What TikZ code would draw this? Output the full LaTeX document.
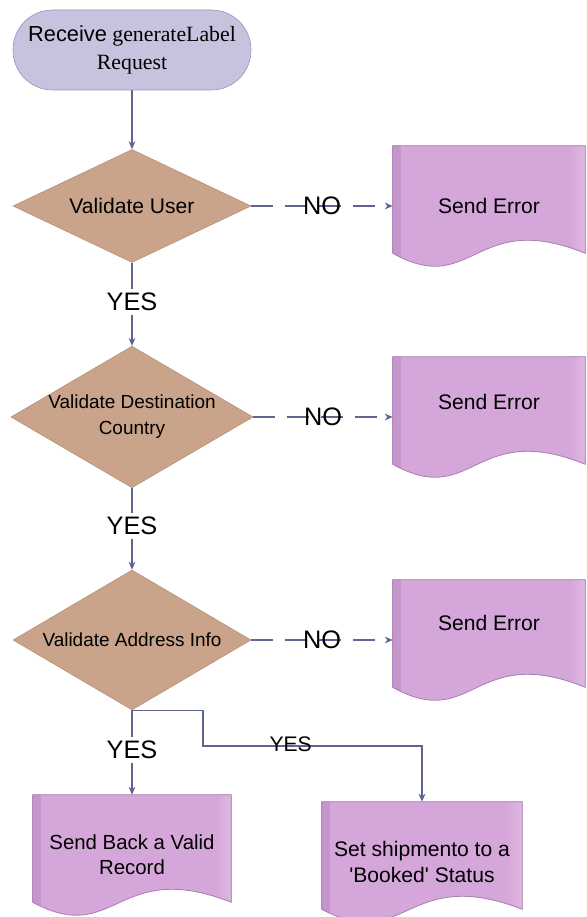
\documentclass[tikz,border=0pt]{standalone}
\usepackage{fontspec}
\setmainfont{Liberation Serif}
\setsansfont{Liberation Sans}[Ligatures=TeXOff]
\usepackage{tikz}
\usetikzlibrary{arrows.meta, shapes.geometric, calc, backgrounds}
\definecolor{flowline}{HTML}{5F6593}
\definecolor{termfill}{HTML}{C8C2DF}
\definecolor{termdraw}{HTML}{9590B8}
\definecolor{checkfill}{HTML}{C9A38A}
\definecolor{checkdraw}{HTML}{B58F77}
\definecolor{docfill}{HTML}{D5A6D9}
\definecolor{docedge}{HTML}{C596CB}
\definecolor{doclight}{HTML}{DFB8E2}
\definecolor{docdraw}{HTML}{A982B5}

% document symbol with a wavy bottom, drawn round a named node
\newcommand{\docshape}[1]{%
  \path[docbox] (#1.north west) -- (#1.north east) -- ([yshift=3.25mm]#1.south east)
    .. controls ($(#1.south west)!0.42!(#1.south east)+(0,1.45)$) and ($(#1.south west)!0.42!(#1.south east)+(0,-0.8)$)
    .. ([yshift=3.25mm]#1.south west) -- cycle;}

\begin{document}
\begin{tikzpicture}[
    flow/.style={draw=flowline, line width=0.8pt, -{Stealth[length=2mm, width=1.7mm]}},
    link/.style={draw=flowline, line width=0.8pt},
    noflow/.style={flow, dash pattern=on 0.55cm off 0.3cm},
    term/.style={draw=termdraw, fill=termfill, rectangle, rounded corners=0.99cm, minimum width=5.95cm, minimum height=2cm, align=center, font=\fontsize{15.5}{20}\selectfont},
    check/.style={draw=checkdraw, fill=checkfill, diamond, inner sep=0pt, minimum width=5.95cm, align=center, font=\sffamily\fontsize{13.5}{18.5}\selectfont},
    docnode/.style={rectangle, minimum height=3cm, inner sep=0pt, align=center, font=\sffamily\fontsize{15}{18}\selectfont},
    docbox/.style={draw=docdraw, fill=docfill, line width=0.6pt,
      path picture={
        \fill[left color=docedge, right color=docfill] (path picture bounding box.north west) rectangle ([xshift=2mm]path picture bounding box.south west);
        \fill[left color=docfill, right color=doclight] ([xshift=-4mm]path picture bounding box.north east) rectangle (path picture bounding box.south east);}},
    yeslabel/.style={font=\sffamily\fontsize{18}{20}\selectfont, inner sep=2.8pt},
    nolabel/.style={font=\sffamily\fontsize{18}{20}\selectfont, inner sep=0pt}]
\useasboundingbox (0,0) rectangle (14.65,22.925);

\node[term] (start) at (3.3,21.675) {{\sffamily Receive} generateLabel\\Request};

\node[check, minimum height=2.825cm, shape aspect=2.1, font=\sffamily\fontsize{15}{18}\selectfont] (user) at (3.3,17.775) {Validate User};
\node[check, minimum height=3.475cm, shape aspect=1.71] (dest) at (3.3,12.5) {Validate Destination\\Country};
\node[check, minimum height=3.5cm, shape aspect=1.7] (addr) at (3.3,6.925) {Validate Address Info};

\node[yeslabel] (yes1) at (3.3,15.375) {YES};
\node[yeslabel] (yes2) at (3.3,9.775) {YES};
\node[yeslabel] (yes3) at (3.3,4.175) {YES};

\node[docnode, minimum width=4.8cm] (err1) at (12.225,17.775) {Send Error};
\node[docnode, minimum width=4.8cm, text depth=0.75cm] (err2) at (12.225,12.5) {Send Error};
\node[docnode, minimum width=4.8cm, text depth=0.85cm] (err3) at (12.225,6.925) {Send Error};
\node[docnode, minimum width=4.95cm, font=\sffamily\fontsize{14.5}{17.8}\selectfont] (ok1) at (3.3,1.55) {Send Back a Valid\\Record};
\node[docnode, minimum width=5cm] (ok2) at (10.55,1.375) {Set shipmento to a\\'Booked' Status};

\coordinate (jog) at (5.075,4.275);

\begin{scope}[on background layer]
  \clip (0,0) rectangle (14.65,22.925);
  \foreach \d in {err1,err2,err3,ok1,ok2} {\docshape{\d}}
\end{scope}

\draw[flow] (start) -- (user);
\draw[link] (user) -- (yes1);
\draw[flow] (yes1) -- (dest);
\draw[link] (dest) -- (yes2);
\draw[flow] (yes2) -- (addr);
\draw[link] (addr) -- (yes3);
\draw[flow] (yes3) -- (ok1);

\draw[noflow] (user) -- node[nolabel] {NO} (err1);
\draw[noflow] (dest) -- node[nolabel] {NO} (err2);
\draw[noflow] (addr) -- node[nolabel] {NO} (err3);

\draw[flow] (addr.south) -| (jog) -| node[pos=0.2, font=\sffamily\fontsize{15}{17}\selectfont, inner sep=0pt, yshift=1pt] {YES} (ok2);
\end{tikzpicture}
\end{document}
